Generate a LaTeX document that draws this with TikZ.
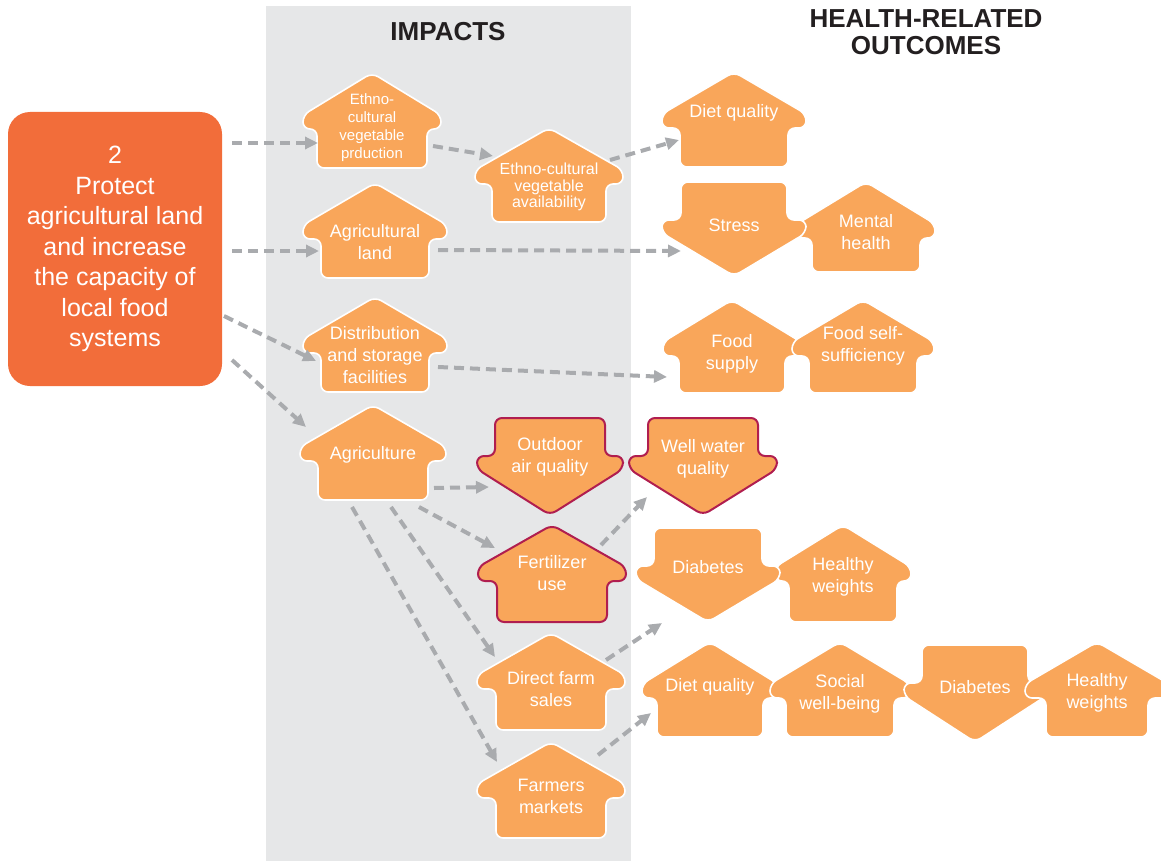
\documentclass[tikz,border=0pt]{standalone}
\usepackage{fontspec}
\setmainfont{Liberation Sans}
\usetikzlibrary{arrows.meta}
\definecolor{shorange}{HTML}{F9A65A}
\definecolor{boxorange}{HTML}{F26D3A}
\definecolor{bandgrey}{HTML}{E6E7E8}
\definecolor{cgrey}{HTML}{A9ABAE}
\definecolor{crim}{HTML}{B01E4F}
\definecolor{titlecol}{HTML}{231F20}
\tikzset{
  shp/.style={fill=shorange, draw=white, line width=1.6pt, rounded corners=7pt},
  crimline/.style={draw=crim, line width=2pt},
  nodefont/.style={font=\fontsize{18}{22}\selectfont},
  txt/.style={text=white, align=center, inner sep=0pt, nodefont},
  conn/.style={draw=cgrey, line width=4pt, dash pattern=on 10pt off 6pt, -{Triangle[length=13pt,width=12pt]}},
  ttl/.style={text=titlecol, align=center, inner sep=0pt, font=\bfseries\fontsize{26}{27}\selectfont},
}
% up arrow: [style]{name}{cx}{top}{W}{B}{H}{texty}{text}
\newcommand{\UpArr}[9][]{%
  \draw[shp,#1] (#3,#4+#7) -- (#3+#6,#4+#7) -- (#3+#6,#4+56) -- (#3+#5,#4+56) -- (#3+#5,#4+42) -- (#3,#4) -- (#3-#5,#4+42) -- (#3-#5,#4+56) -- (#3-#6,#4+56) -- (#3-#6,#4+#7) -- cycle;
  \node[txt] (#2) at (#3,#8) {#9};}
% down arrow
\newcommand{\DnArr}[9][]{%
  \draw[shp,#1] (#3,#4) -- (#3+#6,#4) -- (#3+#6,#4+38) -- (#3+#5,#4+38) -- (#3+#5,#4+51) -- (#3,#4+#7) -- (#3-#5,#4+51) -- (#3-#5,#4+38) -- (#3-#6,#4+38) -- (#3-#6,#4) -- cycle;
  \node[txt] (#2) at (#3,#8) {#9};}
\begin{document}
\begin{tikzpicture}[x=1pt,y=-1pt]
\useasboundingbox (0,0) rectangle (1161,861);
\fill[bandgrey] (266,6) rectangle (631,861);
\node[ttl] (t1) at (448,32) {IMPACTS};
\node[ttl] (t2) at (926,32) {HEALTH-RELATED\\OUTCOMES};
\node[fill=boxorange, rounded corners=22pt, minimum width=214pt, minimum height=274pt,
  text=white, align=center, inner sep=0pt, font=\fontsize{25}{30.5}\selectfont] (box) at (115,249)
  {2\\Protect\\agricultural land\\and increase\\the capacity of\\local food\\systems};
% impacts column
\tikzset{nodefont/.style={font=\fontsize{15}{18}\selectfont}}
\UpArr{ep}{372}{73}{69}{55}{95}{128}{Ethno-\\cultural\\vegetable\\prduction}
\tikzset{nodefont/.style={font=\fontsize{16}{16.5}\selectfont}}
\UpArr{ea}{549}{128}{74}{57}{94}{187}{Ethno-cultural\\vegetable\\availability}
\tikzset{nodefont/.style={font=\fontsize{18}{22}\selectfont}}
\UpArr{al}{375}{183}{72}{54}{95}{242}{Agricultural\\land}
\UpArr{ds}{375}{297}{72}{54}{95}{355}{Distribution\\and storage\\facilities}
\UpArr{ag}{373}{405}{73}{55}{95}{455}{Agriculture}
\DnArr[crimline]{oa}{550}{418}{73}{55}{97}{457}{Outdoor\\air quality}
\UpArr[crimline]{fu}{552}{525}{74}{55}{97}{573}{Fertilizer\\use}
\UpArr{df}{551}{633}{74}{55}{97}{689}{Direct farm\\sales}
\UpArr{fm}{551}{742}{74}{55}{96}{796}{Farmers\\markets}
% outcomes
\UpArr{dq1}{734}{72}{72}{54}{95}{113}{Diet quality}
\UpArr{mh}{866}{182}{69}{54}{90}{232}{Mental\\health}
\DnArr{st}{734}{182}{72}{53}{94}{225}{Stress}
\UpArr{fs}{732}{300}{69}{53}{93}{354}{Food\\supply}
\UpArr{ss}{863}{300}{71}{54}{93}{346}{Food self-\\sufficiency}
\DnArr[crimline]{ww}{703}{418}{74}{55}{97}{459}{Well water\\quality}
\UpArr{hw1}{843}{525}{68}{54}{97}{577}{Healthy\\weights}
\DnArr{db1}{708}{528}{72}{54}{94}{567}{Diabetes}
\UpArr{dq2}{710}{642}{68}{53}{95}{687}{Diet quality}
\UpArr{sw}{840}{642}{70}{54}{95}{694}{Social\\well-being}
\DnArr{db2}{975}{645}{71}{53}{97}{687}{Diabetes}
\UpArr{hw2}{1097}{642}{72}{51}{95}{693}{Healthy\\weights}
% connectors
\draw[conn] ([shift={(117,-106)}]box.center) -- ([shift={(-54,15)}]ep.center);
\draw[conn] ([shift={(117,2)}]box.center) -- ([shift={(-56,9)}]al.center);
\draw[conn] ([shift={(109,67)}]box.center) -- ([shift={(-59,6)}]ds.center);
\draw[conn] ([shift={(117,111)}]box.center) -- ([shift={(-67,-28)}]ag.center);
\draw[conn] ([shift={(61,18)}]ep.center) -- ([shift={(-56,-31)}]ea.center);
\draw[conn] ([shift={(61,-27)}]ea.center) -- ([shift={(-55,27)}]dq1.center);
\draw[conn] ([shift={(63,8)}]al.center) -- ([shift={(-53,26)}]st.center);
\draw[conn] ([shift={(63,12)}]ds.center) -- ([shift={(-65,23)}]fs.center);
\draw[conn] ([shift={(61,33)}]ag.center) -- ([shift={(-61,30)}]oa.center);
\draw[conn] ([shift={(46,52)}]ag.center) -- ([shift={(-57,-25)}]fu.center);
\draw[conn] ([shift={(18,52)}]ag.center) -- ([shift={(-56,-32)}]df.center);
\draw[conn] ([shift={(-21,52)}]ag.center) -- ([shift={(-54,-34)}]fm.center);
\draw[conn] ([shift={(49,-28)}]fu.center) -- ([shift={(-56,38)}]ww.center);
\draw[conn] ([shift={(55,-29)}]df.center) -- ([shift={(-46,56)}]db1.center);
\draw[conn] ([shift={(47,-41)}]fm.center) -- ([shift={(-59,26)}]dq2.center);
\end{tikzpicture}
\end{document}
